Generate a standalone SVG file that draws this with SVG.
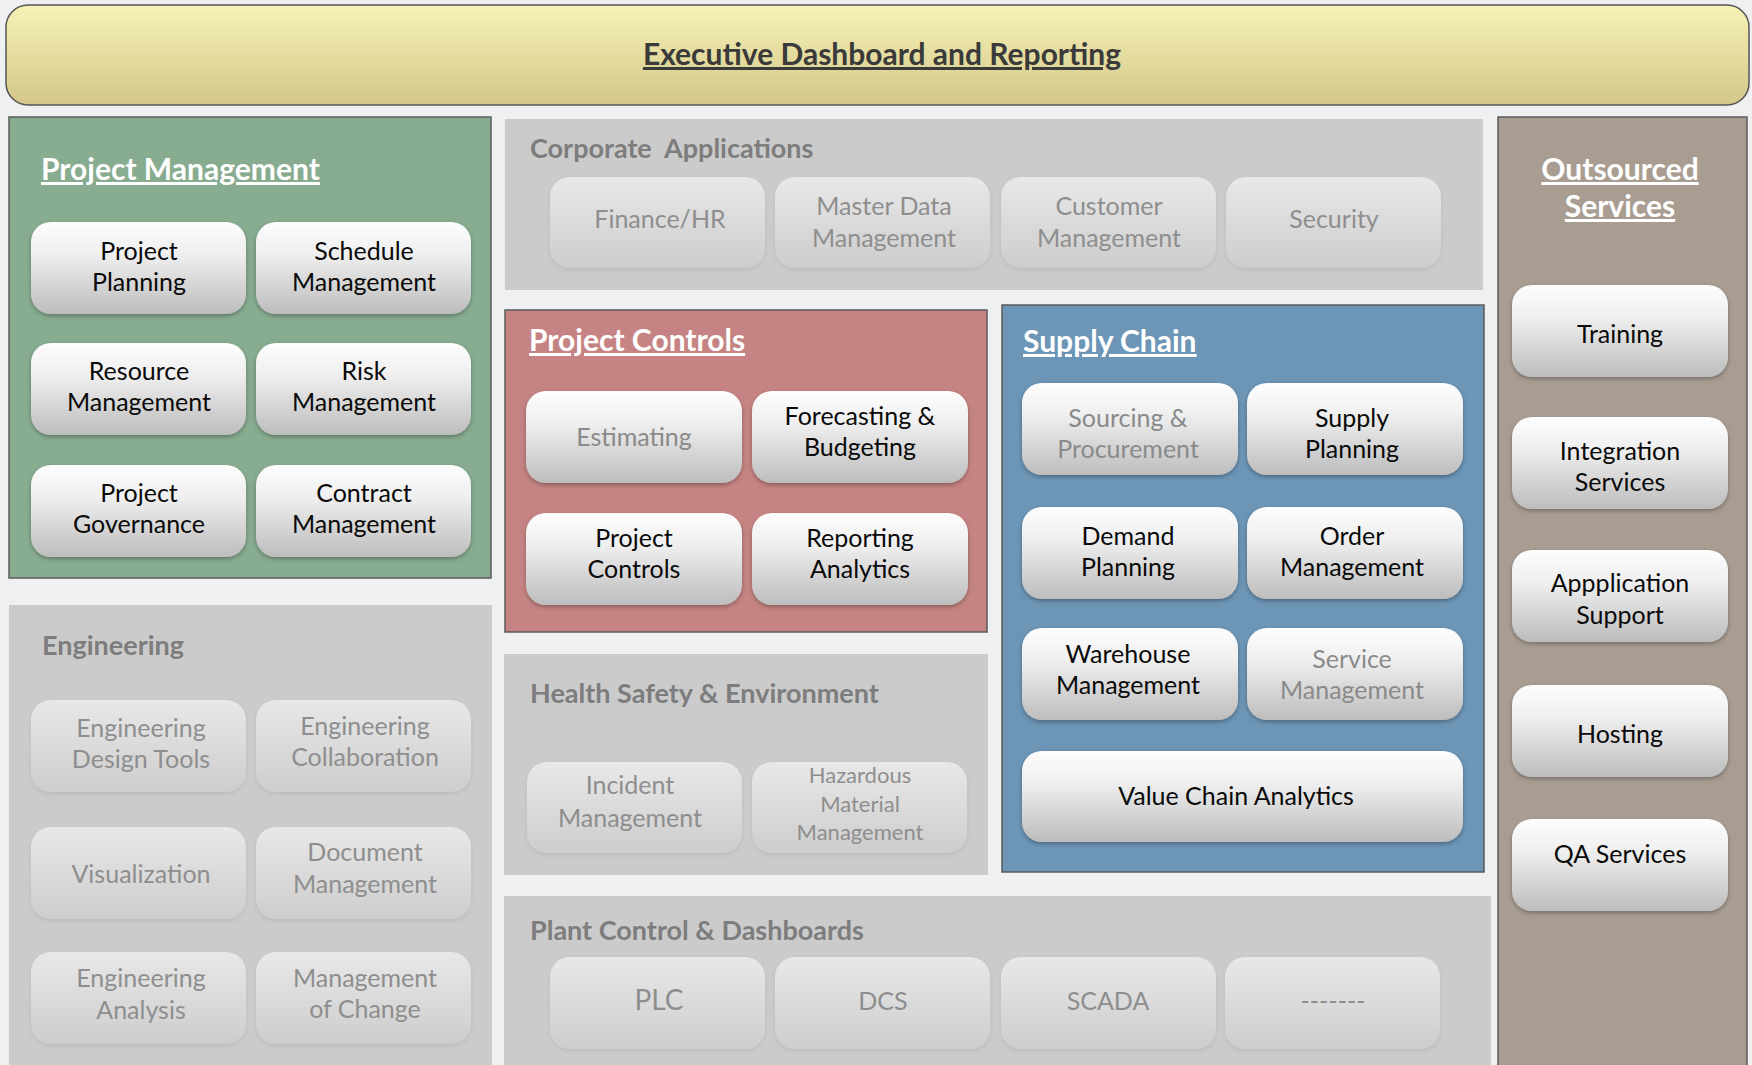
<svg xmlns="http://www.w3.org/2000/svg" width="1752" height="1065" viewBox="0 0 1752 1065">
<defs>
<linearGradient id="gBanner" x1="0" y1="0" x2="0" y2="1"><stop offset="0" stop-color="#f7f2b6"/><stop offset="1" stop-color="#d3c78a"/></linearGradient>
<linearGradient id="gNode" x1="0" y1="0" x2="0" y2="1"><stop offset="0" stop-color="#fdfdfd"/><stop offset="0.35" stop-color="#efefef"/><stop offset="1" stop-color="#bdbdbd"/></linearGradient>
<linearGradient id="gNodeDim" x1="0" y1="0" x2="0" y2="1"><stop offset="0" stop-color="#e8e8e8"/><stop offset="1" stop-color="#cdcdcd"/></linearGradient>
<filter id="sh" x="-10%" y="-10%" width="120%" height="130%"><feDropShadow dx="0" dy="2" stdDeviation="2" flood-color="#000" flood-opacity="0.3"/></filter>
<filter id="shDim" x="-10%" y="-10%" width="120%" height="130%"><feDropShadow dx="0" dy="2" stdDeviation="2" flood-color="#000" flood-opacity="0.08"/></filter>
</defs>
<style>
text{font-family:Lato,"Open Sans","Liberation Sans",sans-serif}
.panel{stroke:#5a5a5a;stroke-width:1.5}
.gpanel{fill:#cbcbcb}
.node{fill:url(#gNode);filter:url(#sh)}
.dnode{fill:url(#gNodeDim);filter:url(#shDim)}
.t{font-size:25px;fill:#0a0a0a;text-anchor:middle}
.tg{font-size:25px;fill:#8a8a8a;text-anchor:middle}
.td{font-size:25px;fill:#8e8e8e;text-anchor:middle}
.ptitle{font-size:30px;font-weight:bold;fill:#fff;text-decoration:underline}
.gtitle{font-size:27px;font-weight:bold;fill:#7d7d7d}
</style>
<rect width="1752" height="1065" fill="#eef0f2"/>

<g id="banner">
<rect x="6" y="5" width="1743" height="100" rx="22" fill="url(#gBanner)" stroke="#555" stroke-width="1.5"/>
<text x="882" y="65" style="font-size:30px;font-weight:bold;fill:#3a3a3a;text-anchor:middle;text-decoration:underline">Executive Dashboard and Reporting</text>
</g>

<g id="project-management">
<rect class="panel" x="9" y="117" width="482" height="461" fill="#88ac90"/>
<text class="ptitle" x="41" y="180">Project Management</text>
<g id="pm-project-planning"><rect class="node" x="31" y="222" width="215" height="92" rx="20"/><text class="t" x="139" y="260">Project</text><text class="t" x="139" y="291">Planning</text></g>
<g id="pm-schedule"><rect class="node" x="256" y="222" width="215" height="92" rx="20"/><text class="t" x="364" y="260">Schedule</text><text class="t" x="364" y="291">Management</text></g>
<g id="pm-resource"><rect class="node" x="31" y="343" width="215" height="92" rx="20"/><text class="t" x="139" y="380">Resource</text><text class="t" x="139" y="411">Management</text></g>
<g id="pm-risk"><rect class="node" x="256" y="343" width="215" height="92" rx="20"/><text class="t" x="364" y="380">Risk</text><text class="t" x="364" y="411">Management</text></g>
<g id="pm-governance"><rect class="node" x="31" y="465" width="215" height="92" rx="20"/><text class="t" x="139" y="502">Project</text><text class="t" x="139" y="533">Governance</text></g>
<g id="pm-contract"><rect class="node" x="256" y="465" width="215" height="92" rx="20"/><text class="t" x="364" y="502">Contract</text><text class="t" x="364" y="533">Management</text></g>
</g>

<g id="corporate-applications">
<rect class="gpanel" x="505" y="119" width="978" height="171"/>
<text class="gtitle" x="530" y="158" xml:space="preserve">Corporate  Applications</text>
<g id="ca-finance"><rect class="dnode" x="550" y="177" width="215" height="91" rx="20"/><text class="td" x="660" y="228">Finance/HR</text></g>
<g id="ca-mdm"><rect class="dnode" x="775" y="177" width="215" height="91" rx="20"/><text class="td" x="884" y="215">Master Data</text><text class="td" x="884" y="247">Management</text></g>
<g id="ca-customer"><rect class="dnode" x="1001" y="177" width="215" height="91" rx="20"/><text class="td" x="1109" y="215">Customer</text><text class="td" x="1109" y="247">Management</text></g>
<g id="ca-security"><rect class="dnode" x="1226" y="177" width="215" height="91" rx="20"/><text class="td" x="1334" y="228">Security</text></g>
</g>

<g id="project-controls">
<rect class="panel" x="505" y="310" width="482" height="322" fill="#c58483"/>
<text class="ptitle" x="529" y="351">Project Controls</text>
<g id="pc-estimating"><rect class="node" x="526" y="391" width="216" height="92" rx="20"/><text class="tg" x="634" y="446">Estimating</text></g>
<g id="pc-forecasting"><rect class="node" x="752" y="391" width="216" height="92" rx="20"/><text class="t" x="860" y="425">Forecasting &amp;</text><text class="t" x="860" y="456">Budgeting</text></g>
<g id="pc-controls"><rect class="node" x="526" y="513" width="216" height="92" rx="20"/><text class="t" x="634" y="547">Project</text><text class="t" x="634" y="578">Controls</text></g>
<g id="pc-reporting"><rect class="node" x="752" y="513" width="216" height="92" rx="20"/><text class="t" x="860" y="547">Reporting</text><text class="t" x="860" y="578">Analytics</text></g>
</g>

<g id="supply-chain">
<rect class="panel" x="1002" y="305" width="482" height="567" fill="#6c95b6"/>
<text class="ptitle" x="1023" y="352">Supply Chain</text>
<g id="sc-sourcing"><rect class="node" x="1022" y="383" width="216" height="92" rx="20"/><text class="tg" x="1128" y="427">Sourcing &amp;</text><text class="tg" x="1128" y="458">Procurement</text></g>
<g id="sc-supply"><rect class="node" x="1247" y="383" width="216" height="92" rx="20"/><text class="t" x="1352" y="427">Supply</text><text class="t" x="1352" y="458">Planning</text></g>
<g id="sc-demand"><rect class="node" x="1022" y="507" width="216" height="92" rx="20"/><text class="t" x="1128" y="545">Demand</text><text class="t" x="1128" y="576">Planning</text></g>
<g id="sc-order"><rect class="node" x="1247" y="507" width="216" height="92" rx="20"/><text class="t" x="1352" y="545">Order</text><text class="t" x="1352" y="576">Management</text></g>
<g id="sc-warehouse"><rect class="node" x="1022" y="628" width="216" height="92" rx="20"/><text class="t" x="1128" y="663">Warehouse</text><text class="t" x="1128" y="694">Management</text></g>
<g id="sc-service"><rect class="node" x="1247" y="628" width="216" height="92" rx="20"/><text class="tg" x="1352" y="668">Service</text><text class="tg" x="1352" y="699">Management</text></g>
<g id="sc-value-chain"><rect class="node" x="1022" y="751" width="441" height="91" rx="20"/><text class="t" x="1236" y="805">Value Chain Analytics</text></g>
</g>

<g id="outsourced-services">
<rect class="panel" x="1498" y="117" width="249" height="960" fill="#a99d92"/>
<text class="ptitle" x="1620" y="180" style="text-anchor:middle">Outsourced</text>
<text class="ptitle" x="1620" y="217" style="text-anchor:middle">Services</text>
<g id="os-training"><rect class="node" x="1512" y="285" width="216" height="92" rx="20"/><text class="t" x="1620" y="343">Training</text></g>
<g id="os-integration"><rect class="node" x="1512" y="417" width="216" height="92" rx="20"/><text class="t" x="1620" y="460">Integration</text><text class="t" x="1620" y="491">Services</text></g>
<g id="os-app-support"><rect class="node" x="1512" y="550" width="216" height="92" rx="20"/><text class="t" x="1620" y="592">Appplication</text><text class="t" x="1620" y="624">Support</text></g>
<g id="os-hosting"><rect class="node" x="1512" y="685" width="216" height="92" rx="20"/><text class="t" x="1620" y="743">Hosting</text></g>
<g id="os-qa"><rect class="node" x="1512" y="819" width="216" height="92" rx="20"/><text class="t" x="1620" y="863">QA Services</text></g>
</g>

<g id="engineering">
<rect class="gpanel" x="9" y="605" width="483" height="470"/>
<text class="gtitle" x="42" y="655">Engineering</text>
<g id="en-design"><rect class="dnode" x="31" y="700" width="215" height="92" rx="20"/><text class="td" x="141" y="737">Engineering</text><text class="td" x="141" y="768">Design Tools</text></g>
<g id="en-collab"><rect class="dnode" x="256" y="700" width="215" height="92" rx="20"/><text class="td" x="365" y="735">Engineering</text><text class="td" x="365" y="766">Collaboration</text></g>
<g id="en-visual"><rect class="dnode" x="31" y="827" width="215" height="92" rx="20"/><text class="td" x="141" y="883">Visualization</text></g>
<g id="en-document"><rect class="dnode" x="256" y="827" width="215" height="92" rx="20"/><text class="td" x="365" y="861">Document</text><text class="td" x="365" y="893">Management</text></g>
<g id="en-analysis"><rect class="dnode" x="31" y="952" width="215" height="92" rx="20"/><text class="td" x="141" y="987">Engineering</text><text class="td" x="141" y="1019">Analysis</text></g>
<g id="en-moc"><rect class="dnode" x="256" y="952" width="215" height="92" rx="20"/><text class="td" x="365" y="987">Management</text><text class="td" x="365" y="1018">of Change</text></g>
</g>

<g id="hse">
<rect class="gpanel" x="504" y="654" width="484" height="221"/>
<text class="gtitle" x="530" y="703">Health Safety &amp; Environment</text>
<g id="hse-incident"><rect class="dnode" x="527" y="762" width="215" height="91" rx="20"/><text class="td" x="630" y="794">Incident</text><text class="td" x="630" y="827">Management</text></g>
<g id="hse-hazardous"><rect class="dnode" x="752" y="762" width="215" height="91" rx="20"/><text class="td" x="860" y="783" style="font-size:22px">Hazardous</text><text class="td" x="860" y="812" style="font-size:22px">Material</text><text class="td" x="860" y="840" style="font-size:22px">Management</text></g>
</g>

<g id="plant-control">
<rect class="gpanel" x="504" y="896" width="987" height="180"/>
<text class="gtitle" x="530" y="940">Plant Control &amp; Dashboards</text>
<g id="pl-plc"><rect class="dnode" x="550" y="957" width="215" height="92" rx="20"/><text class="td" x="659" y="1010" style="font-size:28px">PLC</text></g>
<g id="pl-dcs"><rect class="dnode" x="775" y="957" width="215" height="92" rx="20"/><text class="td" x="883" y="1010">DCS</text></g>
<g id="pl-scada"><rect class="dnode" x="1001" y="957" width="215" height="92" rx="20"/><text class="td" x="1108" y="1010">SCADA</text></g>
<g id="pl-other"><rect class="dnode" x="1225" y="957" width="215" height="92" rx="20"/><text class="td" x="1333" y="1010">-------</text></g>
</g>

<g id="connectors"/>
</svg>
